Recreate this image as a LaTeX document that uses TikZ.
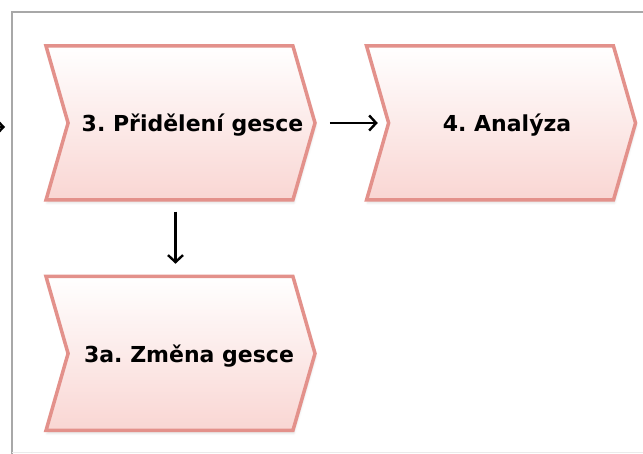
\documentclass[tikz,border=0pt]{standalone}
\usepackage{fontspec}
\setmainfont{DejaVu Sans}
\frenchspacing
\usetikzlibrary{positioning, shapes.symbols, arrows.meta, shadows.blur}
\definecolor{stepline}{HTML}{E3918B}
\definecolor{stepfill}{HTML}{F9D6D3}
\definecolor{framegray}{HTML}{A8A8A8}
\newcommand{\phasetext}[2]{\makebox[0pt]{\hspace*{#1}\raisebox{-9pt}[0pt][0pt]{#2}}}

\begin{document}
\begin{tikzpicture}[
	x=1pt, y=1pt,
	phase/.style={signal, signal to=east, signal from=west, signal pointer angle=148,
		minimum width=269pt, minimum height=154pt, inner sep=0pt,
		draw=stepline, line width=3.5pt, top color=white, bottom color=stepfill,
		blur shadow={shadow xshift=1pt, shadow yshift=-3pt, shadow opacity=12},
		font=\fontsize{22}{26}\selectfont\bfseries},
	flow/.style={-{Straight Barb[length=7pt,width=15pt,line width=2.4pt]}, line width=2.4pt, black}
	]
	\useasboundingbox (0,0) rectangle (643,454);
	\draw[framegray, line width=2.5pt] (643,442) -- (12,442) -- (12,0);
	\draw[black!8, line width=1pt] (12,1) -- (643,1);
	\node[phase] (s3) at (180.5,331) {\phasetext{24pt}{3. Přidělení gesce}};
	\node[phase, right=70pt of s3] (s4) {\phasetext{12pt}{4. Analýza}};
	\node[phase, below=73pt of s3] (s3a) {\phasetext{17pt}{3a. Změna gesce}};
	\coordinate (prev) at (-20,327);
	\coordinate (prevend) at (5,327);
	\draw[flow] (prev) -- (prevend);
	\draw[flow] ([xshift=13pt]s3.east) -- ([xshift=-9pt]s4.west);
	\draw[flow] ([xshift=-5pt, yshift=-10pt]s3.south) -- ([xshift=-5pt, yshift=11pt]s3a.north);
\end{tikzpicture}
\end{document}
